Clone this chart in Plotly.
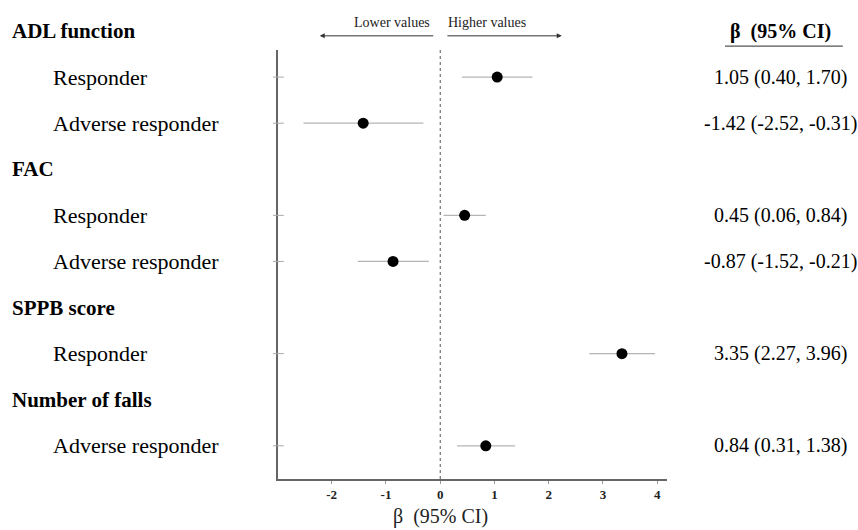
import plotly.graph_objects as go

# ---- data ----
group_names = ["ADL function", "FAC", "SPPB score", "Number of falls"]
group_rows = [0, 3, 6, 8]
item_labels = ["Responder", "Adverse responder", "Responder", "Adverse responder",
               "Responder", "Adverse responder"]
item_rows = [1, 2, 4, 5, 7, 9]
beta = [1.05, -1.42, 0.45, -0.87, 3.35, 0.84]
ci_low = [0.40, -2.52, 0.06, -1.52, 2.75, 0.31]
ci_high = [1.70, -0.31, 0.84, -0.21, 3.96, 1.38]
ci_text = ["1.05 (0.40, 1.70)", "-1.42 (-2.52, -0.31)", "0.45 (0.06, 0.84)",
           "-0.87 (-1.52, -0.21)", "3.35 (2.27, 3.96)", "0.84 (0.31, 1.38)"]
x_tickvals = [-2, -1, 0, 1, 2, 3, 4]
x_ticktext = ["-2", "-1", "0", "1", "2", "3", "4"]

FONT = "Liberation Serif"
Y_RANGE = [9.72, 0.412]


def ypaper(r):
    return (Y_RANGE[0] - r) / (Y_RANGE[0] - Y_RANGE[1])


fig = go.Figure()
fig.add_trace(go.Scatter(
    x=beta, y=item_rows, mode="markers",
    marker=dict(color="black", size=11),
    error_x=dict(type="data", symmetric=False,
                 array=[h - b for h, b in zip(ci_high, beta)],
                 arrayminus=[b - l for b, l in zip(beta, ci_low)],
                 color="#b5b5b5", thickness=1.2, width=0),
    showlegend=False, hoverinfo="skip"))

annotations = []
for name, r in zip(group_names, group_rows):
    annotations.append(dict(text="<b>%s</b>" % name, x=-0.689, xref="paper", y=ypaper(r), yref="paper",
                            xanchor="left", yanchor="middle", showarrow=False,
                            font=dict(family=FONT, size=21, color="black")))
for lab, r, t in zip(item_labels, item_rows, ci_text):
    annotations.append(dict(text=lab, x=-0.583, xref="paper", y=ypaper(r), yref="paper",
                            xanchor="left", yanchor="middle", showarrow=False,
                            font=dict(family=FONT, size=22, color="black")))
    annotations.append(dict(text=t, x=1.293, xref="paper", y=ypaper(r), yref="paper",
                            xanchor="center", yanchor="middle", showarrow=False,
                            font=dict(family=FONT, size=20, color="black")))
# right header
annotations.append(dict(text="<b>β  (95% CI)</b>", x=1.293, xref="paper", y=ypaper(group_rows[0]),
                        yref="paper", xanchor="center", yanchor="middle", showarrow=False,
                        font=dict(family=FONT, size=20, color="black")))
# direction arrows
annotations.append(dict(text="", x=-2.22, y=1.033, xref="x", yref="paper",
                        ax=-0.1, ay=0, axref="x", ayref="pixel", showarrow=True,
                        arrowhead=2, arrowsize=1, arrowwidth=1, arrowcolor="#333"))
annotations.append(dict(text="", x=2.24, y=1.033, xref="x", yref="paper",
                        ax=0.105, ay=0, axref="x", ayref="pixel", showarrow=True,
                        arrowhead=2, arrowsize=1, arrowwidth=1, arrowcolor="#333"))
annotations.append(dict(text="Lower values", x=-0.15, y=1.063, xref="x", yref="paper",
                        xanchor="right", yanchor="middle", showarrow=False,
                        font=dict(family=FONT, size=14, color="#222")))
annotations.append(dict(text="Higher values", x=0.11, y=1.063, xref="x", yref="paper",
                        xanchor="left", yanchor="middle", showarrow=False,
                        font=dict(family=FONT, size=14, color="#222")))
# x-axis title centred at zero
annotations.append(dict(text="β  (95% CI)", x=0, xref="x", y=-0.088, yref="paper",
                        xanchor="center", yanchor="middle", showarrow=False,
                        font=dict(family=FONT, size=20, color="#222")))

shapes = []
# zero line
shapes.append(dict(type="line", x0=0, x1=0, xref="x", y0=0, y1=1, yref="paper",
                   line=dict(color="#555", width=1, dash="3px,3px")))
# header underline
shapes.append(dict(type="line", x0=1.149, x1=1.452, xref="paper", y0=1.009, y1=1.009,
                   yref="paper", line=dict(color="#555", width=1.3)))
# y ticks crossing the axis
for r in item_rows:
    shapes.append(dict(type="line", x0=-0.013, x1=0.015, xref="paper", y0=r, y1=r, yref="y",
                       line=dict(color="#aaa", width=1)))

fig.update_layout(
    width=858, height=530,
    margin=dict(l=278, r=191, t=50, b=51),
    plot_bgcolor="white", paper_bgcolor="white",
    annotations=annotations, shapes=shapes,
    xaxis=dict(range=[-2.99, 4.18], tickvals=x_tickvals, ticktext=x_ticktext,
               showgrid=False, zeroline=False, showline=True, linecolor="#666", linewidth=1.5,
               ticks="outside", ticklen=3, tickcolor="#999",
               tickfont=dict(family=FONT, size=13, color="#222", weight="bold")),
    yaxis=dict(range=Y_RANGE, showgrid=False, zeroline=False, showticklabels=False,
               showline=True, linecolor="#666", linewidth=1.5, ticks=""),
)
fig.write_html("out.html", config={"displayModeBar": False},
               post_script="document.body.style.margin='0';document.body.style.padding='0';"
                           "document.body.style.overflow='hidden';")
